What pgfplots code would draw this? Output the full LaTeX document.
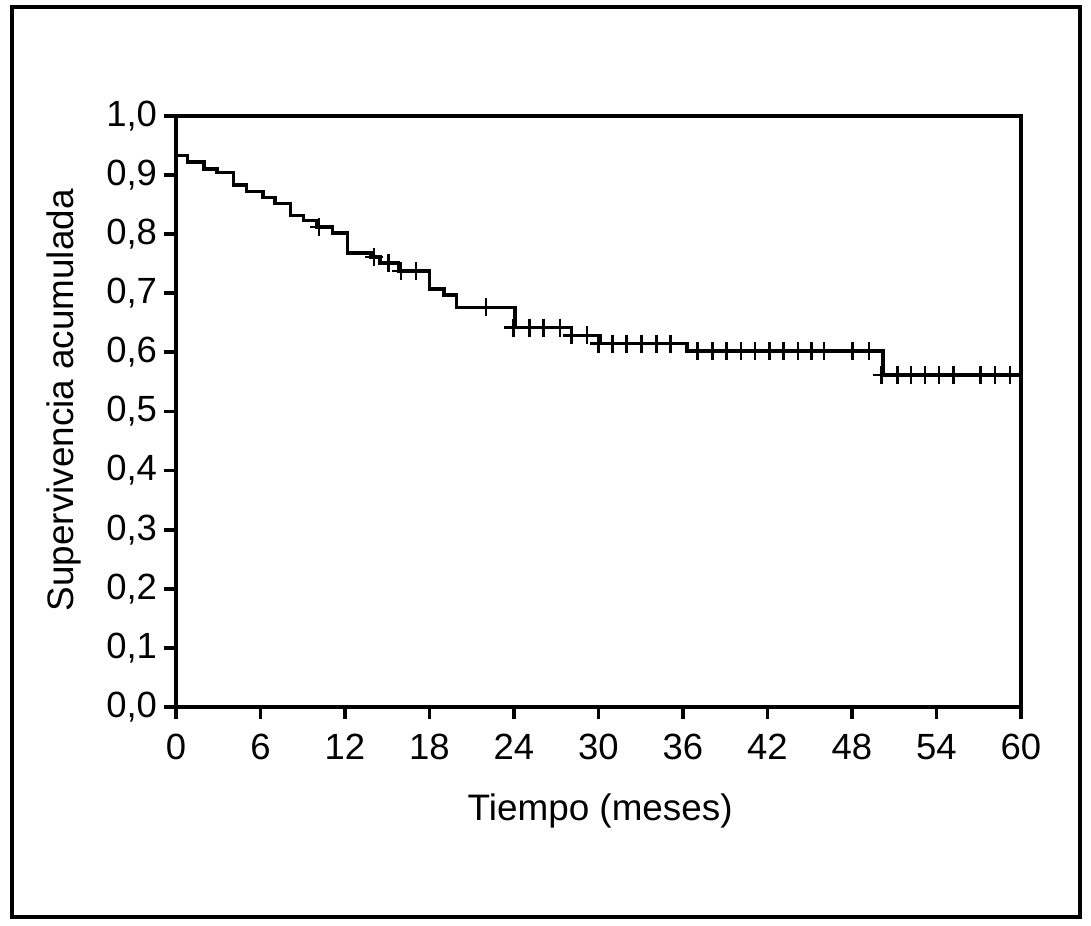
\documentclass[border=0pt]{standalone}
\usepackage{pgfplots}
\pgfplotsset{compat=1.18}
\usepackage{fontspec}
\setmainfont{Liberation Sans}
\begin{document}
\begin{tikzpicture}
\path (-88bp,-109.5bp) rectangle (457.5bp,353.5bp);
\draw[line width=1.8bp] (-82bp,-105bp) rectangle (452bp,350bp);
\begin{axis}[
  at={(0,0)}, anchor=south west,
  scale only axis, width=422.5bp, height=295.5bp,
  xmin=0, xmax=60, ymin=0, ymax=1,
  xtick={0,6,...,60},
  ytick={0,0.1,0.2,0.3,0.4,0.5,0.6,0.7,0.8,0.9,1.0},
  xtick pos=bottom, ytick pos=left,
  tick align=outside,
  major tick length=6bp,
  axis line style={line width=1.9bp},
  every tick/.style={line width=1.9bp, black},
  /pgf/number format/assume math mode=true,
  yticklabel style={/pgf/number format/.cd, fixed, fixed zerofill, precision=1, use comma},
  xticklabel style={yshift=-4bp},
  ticklabel style={font=\fontsize{18.3}{21}\selectfont},
  label style={font=\fontsize{18.5}{22}\selectfont},
  xlabel={Tiempo (meses)},
  ylabel={Supervivencia acumulada},
  xlabel style={at={(axis description cs:0.502,-0.176)}, anchor=center},
  ylabel style={at={(axis description cs:-0.1325,0.519)}, anchor=center},
  clip=false,
]
\addplot[const plot, line width=1.75bp, black] coordinates {
(0,0.933) (0.8,0.922) (2.0,0.910) (2.9,0.904) (4.07,0.883) (5.0,0.872)
(6.16,0.862) (7.03,0.852) (8.14,0.832) (9.04,0.823) (10.0,0.812) (11.1,0.802)
(12.17,0.768) (13.85,0.761) (14.49,0.751) (15.8,0.738) (18.0,0.707) (19.03,0.697)
(19.93,0.676) (24.08,0.642) (28.1,0.629) (30.1,0.615) (36.3,0.602) (50.2,0.562)
(60,0.562)
};
\addplot[only marks, mark=+, mark size=4.5bp, line width=1.25bp, black] coordinates {
(10.16,0.812) (14.06,0.761) (15.08,0.751) (15.96,0.738) (17.05,0.738)
(22.0,0.676) (23.96,0.642) (25.1,0.642) (26.1,0.642) (27.27,0.642)
(28.1,0.629) (29.2,0.629)
(30.0,0.615) (31.0,0.615) (32.0,0.615) (33.07,0.615) (34.13,0.615) (35.12,0.615)
(37.02,0.602) (38.08,0.602) (39.1,0.602) (40.12,0.602) (41.11,0.602) (42.13,0.602)
(43.12,0.602) (44.15,0.602) (45.14,0.602) (46.01,0.602) (48.02,0.602) (49.21,0.602)
(50.11,0.562) (51.22,0.562) (52.19,0.562) (53.18,0.562) (54.18,0.562) (55.19,0.562)
(57.14,0.562) (58.15,0.562) (59.22,0.562)
};
\end{axis}
\end{tikzpicture}
\end{document}
